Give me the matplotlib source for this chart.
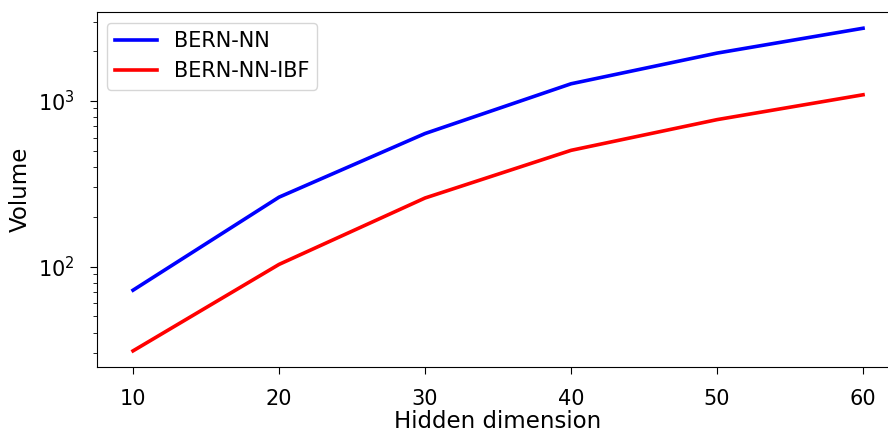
import matplotlib
matplotlib.use("Agg")
import matplotlib.pyplot as plt

hidden_dim = [10, 20, 30, 40, 50, 60]
bern_nn = [72, 262, 634, 1265, 1937, 2735]
bern_nn_ibf = [31, 103, 259, 502, 769, 1086]

plt.rcParams['font.size'] = 16

fig, ax = plt.subplots(figsize=(8.88, 4.33), dpi=100)
ax.plot(hidden_dim, bern_nn, color='blue', lw=2.6, label='BERN-NN')
ax.plot(hidden_dim, bern_nn_ibf, color='red', lw=2.6, label='BERN-NN-IBF')
ax.set_yscale('log')
ax.tick_params(axis='both', which='major', labelsize=15, length=5, pad=11)
ax.tick_params(axis='both', which='minor', length=3)
ax.set_xlabel('Hidden dimension', fontsize=16.5, labelpad=0.5)
ax.set_ylabel('Volume', fontsize=16.5, labelpad=4)
ax.legend(loc='upper left', fontsize=15)
fig.subplots_adjust(left=0.1087, right=1.013, bottom=0.1524, top=0.972)
fig.savefig('out.png')
